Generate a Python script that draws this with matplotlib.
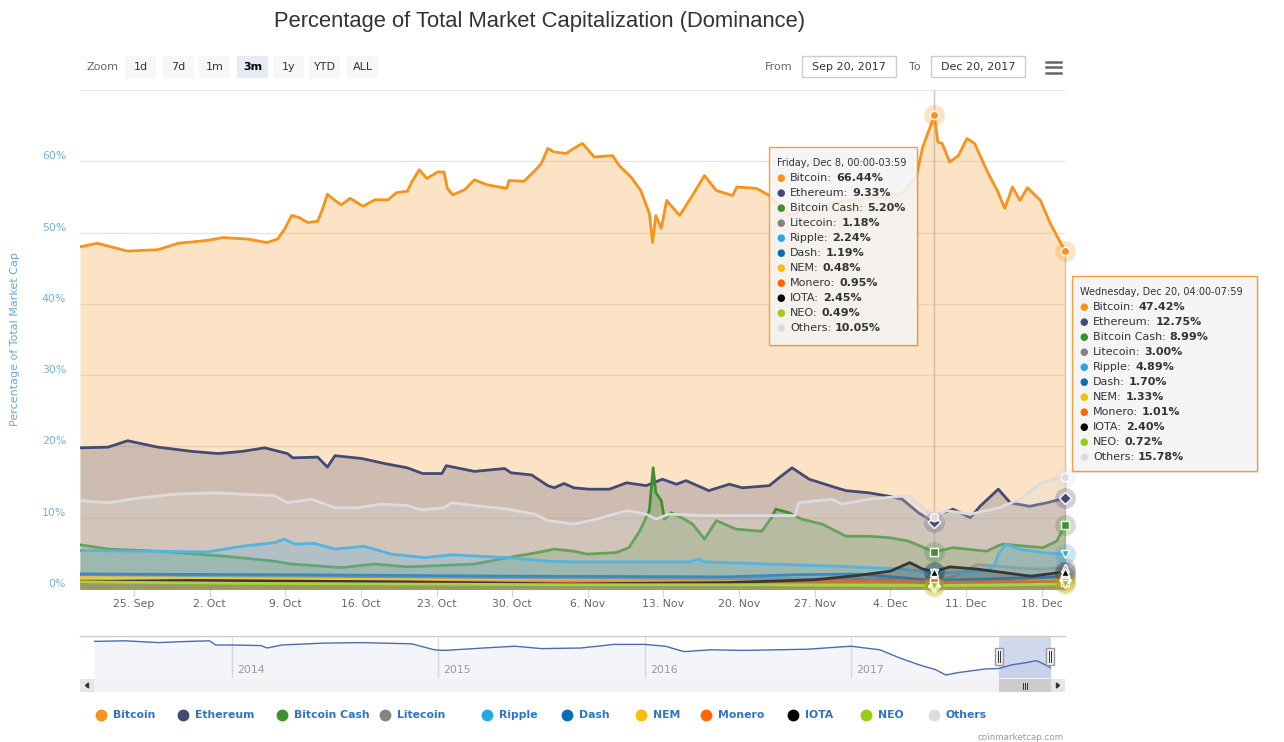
import matplotlib
matplotlib.use('Agg')
import matplotlib.pyplot as plt
from matplotlib.patches import Rectangle, Polygon
from matplotlib.lines import Line2D
import numpy as np
import pandas as pd

W, H = 1284, 742

names = ['Bitcoin', 'Ethereum', 'Bitcoin Cash', 'Litecoin', 'Ripple', 'Dash',
         'NEM', 'Monero', 'IOTA', 'NEO', 'Others']
colors = ['#f7931a', '#454a75', '#3f8f2f', '#838383', '#27a7e0', '#0b6db3',
          '#f5c000', '#ff6600', '#000000', '#9acc14', '#dcdcdc']
symbols = ['o', 'D', 's', '^', 'v', 'o', 'D', 's', '^', 'v', 'o']

# days after 2017-09-20 00:00
btc_day = [0.0, 1.6, 4.4, 7.2, 9.1, 11.8, 13.2, 15.5, 17.3, 18.3, 18.9, 19.6, 20.3, 21.1, 22.0,
           22.5, 22.9, 23.6, 24.2, 25.0, 26.2, 27.3, 28.5, 29.3, 30.3, 30.7, 31.4, 32.1, 33.1,
           33.7, 34.0, 34.5, 35.6, 36.5, 37.7, 39.5, 39.7, 41.1, 42.1, 42.7, 43.3, 43.9, 45.0,
           45.7, 46.5, 47.6, 49.3, 49.9, 51.0, 51.9, 52.7, 53.0, 53.3, 53.8, 54.3, 55.5, 56.6,
           57.8, 58.9, 60.4, 60.8, 62.6, 63.8, 65.6, 67.5, 71.2, 73.9, 76.1, 77.4, 78.0, 79.08,
           79.4, 79.8, 80.5, 81.3, 82.1, 82.8, 84.0, 84.9, 85.6, 86.3, 87.0, 87.7, 88.9, 89.8, 91.17]
btc_val = [48.0, 48.5, 47.4, 47.6, 48.5, 48.9, 49.3, 49.1, 48.6, 49.1, 50.4, 52.4, 52.1, 51.4, 51.6,
           53.5, 55.4, 54.5, 53.9, 54.8, 53.7, 54.6, 54.6, 55.6, 55.8, 57.1, 58.8, 57.6, 58.5,
           58.5, 56.2, 55.3, 56.0, 57.4, 56.7, 56.2, 57.3, 57.2, 58.7, 59.7, 61.8, 61.3, 61.1,
           61.8, 62.5, 60.6, 60.8, 59.4, 57.8, 55.9, 52.7, 48.6, 52.4, 50.6, 54.5, 52.4, 55.0,
           58.0, 55.9, 55.2, 56.4, 56.2, 55.2, 52.5, 53.5, 54.5, 55.0, 55.5, 57.8, 62.0, 66.44,
           62.7, 62.5, 59.9, 60.8, 63.2, 62.5, 58.5, 55.9, 53.4, 56.4, 54.5, 56.3, 54.5, 51.3, 47.42]

eth_day = [0.0, 2.6, 4.4, 7.2, 10.4, 12.8, 15.0, 17.1, 19.2, 19.7, 22.0, 22.9, 23.6, 26.1, 28.2,
           30.3, 31.7, 33.5, 33.9, 36.5, 39.3, 39.9, 41.8, 43.3, 43.9, 44.8, 45.7, 47.1, 49.0,
           50.6, 52.4, 53.9, 55.2, 56.1, 58.2, 60.1, 61.3, 63.8, 64.7, 65.9, 67.5, 70.0, 70.9,
           73.0, 74.9, 76.1, 77.6, 79.08, 79.6, 80.8, 82.4, 83.3, 85.0, 86.1, 87.9, 89.5, 91.17]
eth_val = [19.8, 19.9, 20.8, 19.9, 19.3, 19.0, 19.3, 19.8, 19.0, 18.4, 18.5, 17.1, 18.7, 18.3, 17.6,
           17.0, 16.2, 16.2, 17.3, 16.5, 16.9, 16.3, 16.0, 14.5, 14.2, 14.8, 14.2, 14.0, 14.0,
           14.9, 14.5, 15.4, 14.7, 15.2, 13.8, 14.7, 14.2, 14.5, 15.6, 17.0, 15.4, 14.2, 13.8,
           13.5, 13.0, 12.6, 10.7, 9.33, 10.5, 11.2, 10.0, 11.6, 14.0, 12.1, 11.6, 12.1, 12.75]

bch_day = [0.0, 2.6, 7.2, 13.4, 18.0, 19.6, 24.2, 27.3, 30.3, 36.5, 39.6, 42.3, 43.9, 45.7, 46.9,
           49.6, 50.8, 51.8, 52.7, 53.05, 53.3, 53.8, 54.1, 54.7, 55.7, 56.7, 57.8, 58.9, 60.7,
           63.1, 64.0, 64.4, 65.6, 66.8, 68.7, 70.9, 73.0, 74.9, 76.7, 79.08, 80.8, 83.9, 84.9,
           85.4, 89.1, 90.4, 91.17]
bch_val = [6.2, 5.6, 5.3, 4.6, 3.9, 3.5, 3.0, 3.5, 3.1, 3.5, 4.4, 5.1, 5.6, 5.3, 4.9,
           5.1, 5.8, 8.1, 11.0, 17.0, 13.5, 12.4, 9.8, 10.7, 10.0, 9.1, 7.0, 9.6, 8.4,
           8.1, 10.0, 11.2, 10.7, 9.8, 9.1, 7.4, 7.4, 7.2, 6.7, 5.20, 5.8, 5.3, 6.0,
           6.3, 5.8, 6.7, 8.99]

ltc_day = [0.0, 10.0, 20.0, 30.0, 40.0, 50.0, 60.0, 70.0, 76.0, 79.08, 81.0, 83.0, 85.0, 87.0, 89.0, 91.17]
ltc_val = [2.1, 2.0, 1.9, 1.6, 1.5, 1.6, 1.5, 1.4, 1.3, 1.18, 1.8, 3.4, 3.2, 2.9, 2.8, 3.00]

xrp_day = [0.0, 5.7, 11.8, 15.0, 18.0, 18.9, 19.9, 21.7, 23.6, 26.3, 28.8, 31.9, 34.4, 39.6, 43.3,
           45.7, 56.4, 57.3, 57.8, 63.8, 70.0, 76.1, 79.08, 83.5, 84.6, 85.0, 85.7, 86.9, 89.0, 91.17]
xrp_val = [5.4, 5.3, 5.2, 6.0, 6.5, 7.0, 6.3, 6.4, 5.6, 6.0, 4.9, 4.4, 4.8, 4.4, 3.9,
           3.8, 3.8, 4.2, 3.8, 3.5, 3.2, 2.8, 2.24, 2.5, 3.2, 4.9, 6.3, 5.6, 5.1, 4.89]

dash_day = [0.0, 20.0, 40.0, 60.0, 66.0, 72.0, 76.0, 79.08, 84.0, 88.0, 91.17]
dash_val = [2.1, 2.0, 1.8, 1.7, 2.0, 2.1, 1.6, 1.19, 1.4, 1.6, 1.70]

nem_day = [0.0, 20.0, 40.0, 60.0, 75.0, 79.08, 84.0, 88.0, 91.17]
nem_val = [1.6, 1.4, 1.2, 1.0, 0.7, 0.48, 0.7, 1.1, 1.33]

xmr_day = [0.0, 20.0, 40.0, 60.0, 75.0, 79.08, 85.0, 91.17]
xmr_val = [1.1, 1.0, 1.0, 1.0, 1.1, 0.95, 1.0, 1.01]

iota_day = [0.0, 10.0, 20.0, 30.0, 45.0, 60.0, 68.0, 72.0, 75.0, 76.8, 78.0, 79.08, 80.5, 83.0, 86.0, 88.0, 91.17]
iota_val = [1.0, 1.2, 1.1, 1.0, 0.7, 0.9, 1.3, 1.9, 2.5, 3.7, 2.8, 2.45, 3.1, 2.8, 2.2, 1.8, 2.40]

neo_day = [0.0, 15.0, 30.0, 45.0, 60.0, 75.0, 79.08, 85.0, 91.17]
neo_val = [1.0, 0.8, 0.7, 0.6, 0.6, 0.5, 0.49, 0.55, 0.72]

oth_day = [0.0, 2.6, 5.7, 8.8, 12.5, 15.0, 18.0, 19.2, 21.4, 23.6, 25.7, 27.9, 30.3, 31.6, 33.7,
           34.4, 36.5, 39.6, 42.1, 43.3, 45.7, 47.8, 50.6, 52.4, 53.3, 54.5, 57.6, 62.6, 66.2,
           66.5, 69.6, 70.5, 73.0, 76.7, 78.0, 79.08, 80.2, 82.4, 85.1, 87.0, 89.1, 91.17]
oth_val = [12.4, 12.1, 12.8, 13.3, 13.5, 13.3, 13.1, 12.1, 12.6, 11.4, 11.4, 11.9, 11.7, 11.1, 11.4,
           12.1, 11.7, 11.2, 10.5, 9.6, 9.1, 9.8, 11.0, 10.5, 9.8, 10.5, 10.3, 10.3, 10.3,
           12.1, 12.6, 11.9, 12.6, 13.1, 11.4, 10.05, 11.0, 10.5, 11.4, 12.6, 15.0, 15.78]

# hovered points (tooltips)
hover_days = [79.08, 91.17]
dec8_vals = [66.44, 9.33, 5.20, 1.18, 2.24, 1.19, 0.48, 0.95, 2.45, 0.49, 10.05]
dec20_vals = [47.42, 12.75, 8.99, 3.00, 4.89, 1.70, 1.33, 1.01, 2.40, 0.72, 15.78]

# navigator: bitcoin dominance, whole history
nav_year = [2013.33, 2013.48, 2013.64, 2013.79, 2013.89, 2013.92, 2014.0, 2014.14, 2014.17, 2014.24,
            2014.43, 2014.62, 2014.87, 2014.98, 2015.03, 2015.22, 2015.37, 2015.50, 2015.69, 2015.85,
            2016.0, 2016.10, 2016.19, 2016.32, 2016.48, 2016.64, 2016.79, 2017.0, 2017.14, 2017.24,
            2017.33, 2017.41, 2017.46, 2017.52, 2017.65, 2017.72, 2017.78, 2017.84, 2017.90, 2017.93, 2017.97]
nav_val = [94, 95, 92, 94, 95, 88, 88, 87, 83, 88,
           91, 92, 90, 80, 79, 83, 86, 82, 83, 89,
           89, 86, 77, 80, 79, 80, 81, 86, 80, 66,
           55, 47, 38, 42, 48, 49, 55, 58, 62, 57, 50]

series = [(btc_day, btc_val), (eth_day, eth_val), (bch_day, bch_val), (ltc_day, ltc_val),
          (xrp_day, xrp_val), (dash_day, dash_val), (nem_day, nem_val), (xmr_day, xmr_val),
          (iota_day, iota_val), (neo_day, neo_val), (oth_day, oth_val)]

start = np.datetime64('2017-09-20T00:00')


def to_dates(days):
    return start + (np.array(days) * 86400).astype('timedelta64[s]')


def fx(x):
    return x / W


def fy(y):
    return 1 - y / H


fig = plt.figure(figsize=(W / 100, H / 100), dpi=100)


def box(x0, y0, x1, y1, **kw):
    fig.add_artist(Rectangle((fx(x0), fy(y1)), (x1 - x0) / W, (y1 - y0) / H,
                             transform=fig.transFigure, **kw))


def hline(x0, x1, y, **kw):
    fig.add_artist(Line2D([fx(x0), fx(x1)], [fy(y), fy(y)], transform=fig.transFigure, **kw))


# ---------------- main chart
ax = fig.add_axes([fx(80), fy(589), (1065 - 80) / W, (589 - 90) / H])
for i, (d, v) in enumerate(series):
    x = to_dates(d)
    ax.fill_between(x, 0, v, color=colors[i], alpha=0.25, lw=0, zorder=2 + i)
    ax.plot(x, v, color=colors[i], lw=2, zorder=2 + i, solid_joinstyle='round')

ax.set_xlim(start, to_dates([91.17])[0])
ax.set_ylim(0, 70)
ax.set_yticks(range(0, 71, 10))
ax.set_yticklabels([f'{v}%' for v in range(0, 61, 10)] + [''])
for lab in ax.get_yticklabels():
    lab.set_va('bottom')
ax.tick_params(axis='y', length=0, pad=10, labelsize=7.8, labelcolor='#72aee6')
ax.grid(axis='y', color='#e6e6e6', lw=1, zorder=0)
ax.set_axisbelow(True)

ticks = pd.date_range('2017-09-25', '2017-12-18', freq='7D')
ax.set_xticks(ticks.values)
ax.set_xticklabels([f'{t.day}. {t:%b}' for t in ticks])
ax.tick_params(axis='x', length=6, color='#ccd6eb', pad=1.5, labelsize=7.8, labelcolor='#666666')
for s in ['left', 'right', 'top']:
    ax.spines[s].set_visible(False)
ax.spines['bottom'].set_color('#ccd6eb')

# crosshairs + hover markers
hx = to_dates(hover_days)
ax.axvline(hx[0], color='#c8c8c8', lw=1, zorder=1.5)
ax.plot([hx[1], hx[1]], [0, dec20_vals[0]], color='#c8c8c8', lw=1, zorder=1.5, clip_on=False)
for i in range(len(names)):
    for xx, vals in [(hx[0], dec8_vals), (hx[1], dec20_vals)]:
        ax.plot([xx], [vals[i]], marker='o', ms=15, color=colors[i], alpha=0.25,
                zorder=20, clip_on=False, mec='none')
        ax.plot([xx], [vals[i]], marker=symbols[i], ms=6, color=colors[i], mec='white',
                mew=1, zorder=21, clip_on=False)

ax.text(-0.066, 0.5, 'Percentage of Total Market Cap', transform=ax.transAxes, rotation=90,
        ha='center', va='center', fontsize=8, color='#6aa6e0')

# ---------------- title / range selector
fig.text(fx(540), fy(22), 'Percentage of Total Market Capitalization (Dominance)',
         ha='center', va='center', fontsize=15.8, family='Liberation Sans', color='#333333')
fig.text(fx(87), fy(67), 'Zoom', ha='left', va='center', fontsize=8, color='#666666')
buttons = ['1d', '7d', '1m', '3m', '1y', 'YTD', 'ALL']
btn_x = [125, 163, 199, 237, 273, 309, 347]
for lab, bx in zip(buttons, btn_x):
    sel = lab == '3m'
    box(bx, 56, bx + 31, 78, fc='#e6ebf5' if sel else '#f7f7f7', ec='none')
    fig.text(fx(bx + 15.5), fy(67), lab, ha='center', va='center', fontsize=8,
             color='#000000' if sel else '#333333', weight='bold' if sel else 'normal')

fig.text(fx(765), fy(67), 'From', ha='left', va='center', fontsize=8, color='#666666')
box(802, 56, 896, 77, fc='white', ec='#cccccc', lw=1)
fig.text(fx(849), fy(67), 'Sep 20, 2017', ha='center', va='center', fontsize=8, color='#333333')
fig.text(fx(909), fy(67), 'To', ha='left', va='center', fontsize=8, color='#666666')
box(931, 56, 1025, 77, fc='white', ec='#cccccc', lw=1)
fig.text(fx(978), fy(67), 'Dec 20, 2017', ha='center', va='center', fontsize=8, color='#333333')
for yy in [61.5, 67, 72.5]:
    hline(1046, 1061, yy, color='#666666', lw=1.8)

# ---------------- tooltips
renderer = fig.canvas.get_renderer()


def tooltip(x0, y0, x1, y1, header, vals):
    box(x0 + 2, y0 + 2, x1 + 2, y1 + 2, fc='#000000', alpha=0.08, ec='none', zorder=30)
    box(x0, y0, x1, y1, fc='#f7f7f7', alpha=0.88, ec='#f7931a', lw=1, zorder=31)
    fig.text(fx(x0 + 8), fy(y0 + 16), header, ha='left', va='center', fontsize=7,
             color='#333333', zorder=32)
    for i, (n, c, v) in enumerate(zip(names, colors, vals)):
        yy = y0 + 31 + 15 * i
        fig.text(fx(x0 + 12), fy(yy), '\u25cf', ha='center', va='center', fontsize=7,
                 color=c, zorder=32)
        t = fig.text(fx(x0 + 21), fy(yy), n + ':', ha='left', va='center', fontsize=8,
                     color='#333333', zorder=32)
        bb = t.get_window_extent(renderer)
        fig.text(bb.x1 / fig.bbox.width + 4 / W, fy(yy), f'{v:.2f}%', ha='left', va='center',
                 fontsize=8, weight='bold', color='#333333', zorder=32)


tooltip(769, 147, 917, 345, 'Friday, Dec 8, 00:00-03:59', dec8_vals)
tooltip(1072, 276, 1257, 471, 'Wednesday, Dec 20, 04:00-07:59', dec20_vals)

# ---------------- navigator
nav = fig.add_axes([fx(94), fy(678), (1051 - 94) / W, (678 - 636) / H])
nav.fill_between(nav_year, 0, nav_val, color='#335cad', alpha=0.06, lw=0)
nav.plot(nav_year, nav_val, color='#4a6cb3', lw=1)
nav.set_xlim(nav_year[0], nav_year[-1])
nav.set_ylim(33, 103)
for yr in [2014, 2015, 2016, 2017]:
    nav.axvline(yr, color='#e0e0e0', lw=1, zorder=0)
    nav.text(yr + 0.025, 46, str(yr), fontsize=7.8, color='#999999', va='center', ha='left')
nav.axvspan(2017.72, 2017.97, color='#667fc2', alpha=0.3, lw=0)
nav.set_xticks([])
nav.set_yticks([])
for s in nav.spines.values():
    s.set_visible(False)
hline(80, 1065, 636, color='#cccccc', lw=1)
for hx_ in [999, 1050]:
    box(hx_ - 4, 648, hx_ + 4, 665, fc='#f2f2f2', ec='#999999', lw=1, zorder=5)
    for dx in [-1.2, 1.2]:
        fig.add_artist(Line2D([fx(hx_ + dx)] * 2, [fy(651), fy(662)], color='#333333', lw=0.7,
                              transform=fig.transFigure, zorder=6))

# scrollbar
box(80, 679, 1065, 692, fc='#f2f2f2', ec='none')
box(80, 679, 94, 692, fc='#e6e6e6', ec='none')
box(1051, 679, 1065, 692, fc='#e6e6e6', ec='none')
box(999, 679, 1051, 692, fc='#cccccc', ec='none')
for dx in [-2, 0, 2]:
    fig.add_artist(Line2D([fx(1025 + dx)] * 2, [fy(682.5), fy(688.5)], color='#333333', lw=0.7,
                          transform=fig.transFigure))
fig.add_artist(Polygon([[fx(88.5), fy(683)], [fx(88.5), fy(688)], [fx(85.5), fy(685.5)]],
                       closed=True, color='#333333', transform=fig.transFigure))
fig.add_artist(Polygon([[fx(1056.5), fy(683)], [fx(1056.5), fy(688)], [fx(1059.5), fy(685.5)]],
                       closed=True, color='#333333', transform=fig.transFigure))

# ---------------- legend
leg_x = [101, 183, 282, 385, 487, 567, 641, 706, 793, 866, 934]
for n, c, lx in zip(names, colors, leg_x):
    fig.add_artist(Line2D([fx(lx)], [fy(715)], marker='o', ms=8.5, color=c, mec='none',
                          transform=fig.transFigure))
    fig.text(fx(lx + 12), fy(715), n, ha='left', va='center', fontsize=7.8, weight='bold',
             color='#2f74c0')

fig.text(fx(1064), fy(737), 'coinmarketcap.com', ha='right', va='center', fontsize=6.3,
         color='#999999')

fig.savefig('out.png', dpi=100)
